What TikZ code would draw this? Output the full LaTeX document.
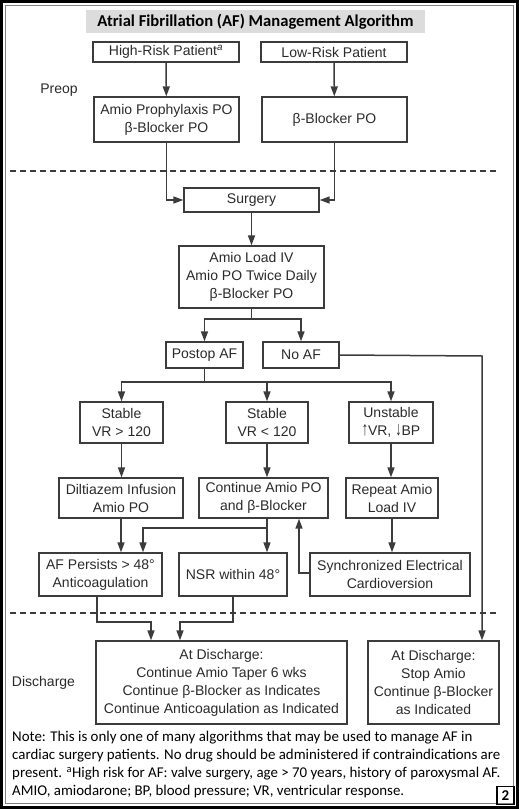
\documentclass[tikz,border=0pt]{standalone}
\usepackage{fontspec}
\setmainfont{Liberation Sans}
\newfontfamily\notefont{Carlito}
\usetikzlibrary{arrows.meta}
\definecolor{ln}{HTML}{3C3C3C}
\definecolor{tx}{HTML}{2A2A2A}
\definecolor{titlebg}{HTML}{DCDCDC}
\newcommand{\tallarrow}[1]{\scalebox{0.9}[1.4]{#1}}
\begin{document}
\begin{tikzpicture}[x=1pt,y=-1pt,
  box/.style={draw=ln,line width=1.3pt,inner sep=0pt,align=center,text=tx,font=\fontsize{14}{18}\selectfont},
  conn/.style={draw=ln,line width=1.5pt},
  arr/.style={conn,-{Triangle[length=10pt,width=7pt]}},
  sepline/.style={draw=ln,line width=2pt,dash pattern=on 6pt off 4pt},
  lbl/.style={inner sep=0pt,text=tx,font=\fontsize{14}{18}\selectfont}]
\useasboundingbox (0,0) rectangle (519,809);
% frame
\draw[black,line width=3pt] (1.5,1.5) rectangle (517.5,807.5);
\draw[gray,line width=1pt] (5.5,5.5) rectangle (513.5,803.5);
% title
\node[fill=titlebg,minimum width=339pt,minimum height=23pt,inner sep=0pt,font=\notefont\bfseries\fontsize{16.6}{18}\selectfont] (title) at (255.5,21.5) {Atrial Fibrillation (AF) Management Algorithm};
% separators
\coordinate (d1l) at (10,171); \coordinate (d1r) at (499,171);
\coordinate (d2l) at (10,613); \coordinate (d2r) at (499,613);
\draw[sepline] (d1l) -- (d1r);
\draw[sepline] (d2l) -- (d2r);
% labels
\node[lbl] (preop) at (59,90) {Preop};
\node[lbl] (disch) at (43.5,683) {Discharge};
% boxes
\node[box,minimum width=146pt,minimum height=20pt] (hr) at (166,52) {High-Risk Patient\textsuperscript{\itshape a}};
\node[box,minimum width=146pt,minimum height=20pt] (lr) at (334,52) {Low-Risk Patient};
\node[box,minimum width=145pt,minimum height=45pt] (amp) at (166.5,119.5) {Amio Prophylaxis PO\\β-Blocker PO};
\node[box,minimum width=145pt,minimum height=45pt] (bb) at (334.5,119.5) {β-Blocker PO};
\node[box,minimum width=135pt,minimum height=24pt] (surg) at (251.5,200) {Surgery};
\node[box,minimum width=145pt,minimum height=62pt] (load) at (251.5,277) {Amio Load IV\\Amio PO Twice Daily\\β-Blocker PO};
\node[box,minimum width=77pt,minimum height=26pt] (postop) at (204.5,355) {Postop AF};
\node[box,minimum width=76pt,minimum height=26pt] (noaf) at (301,355) {No AF};
\node[box,minimum width=83pt,minimum height=41pt] (s1) at (121.5,422.5) {Stable\\VR > 120};
\node[box,minimum width=82pt,minimum height=41pt] (s2) at (267,422.5) {Stable\\VR < 120};
\node[box,minimum width=84pt,minimum height=41pt] (un) at (391,422.5) {Unstable\\\tallarrow{↑}VR, \tallarrow{↓}BP};
\node[box,minimum width=124pt,minimum height=40pt] (dilt) at (121,498) {Diltiazem Infusion\\Amio PO};
\node[box,minimum width=129pt,minimum height=40pt] (cont) at (263.5,498) {Continue Amio PO\\and β-Blocker};
\node[box,minimum width=92pt,minimum height=40pt] (rep) at (392,498) {Repeat Amio\\Load IV};
\node[box,minimum width=123pt,minimum height=43pt] (afp) at (100.5,574.5) {AF Persists > 48°\\Anticoagulation};
\node[box,minimum width=108pt,minimum height=43pt] (nsr) at (233,574.5) {NSR within 48°};
\node[box,minimum width=160pt,minimum height=43pt] (sync) at (390,574.5) {Synchronized Electrical\\Cardioversion};
\node[box,minimum width=251pt,minimum height=83pt] (dc1) at (221.5,682.5) {At Discharge:\\Continue Amio Taper 6 wks\\Continue β-Blocker as Indicates\\Continue Anticoagulation as Indicated};
\node[box,minimum width=131pt,minimum height=83pt] (dc2) at (433.5,682.5) {At Discharge:\\Stop Amio\\Continue β-Blocker\\as Indicated};
% connectors
\draw[arr] (hr) -- (amp);
\draw[arr] (lr) -- (bb);
\draw[arr] (amp.south) |- (surg.west);
\draw[arr] (bb.south) |- (surg.east);
\draw[arr] (surg) -- (load);
\coordinate (b1) at (251.5,319);
\draw[conn] (load.south) -- (b1);
\draw[arr] (b1) -| (postop.north);
\draw[arr] (b1) -| (noaf.north);
\coordinate (c482) at (482,356);
\draw[arr] (noaf.east) -- (c482) -- (c482 |- dc2.north);
\coordinate (b2) at (204.5,382);
\draw[conn] (postop.south) -- (b2);
\draw[arr] (b2) -| (s1.north);
\draw[arr] (b2) -| (s2.north);
\draw[arr] (b2) -| (un.north);
\draw[arr] (s1.south) -- (s1.south |- dilt.north);
\draw[arr] (s2.south) -- (s2.south |- cont.north);
\draw[arr] (un.south) -- (un.south |- rep.north);
\coordinate (b3) at (267,528);
\coordinate (c143) at (143,528);
\draw[conn] (cont.south -| b3) -- (b3);
\draw[arr] (b3) -- (c143) -- (c143 |- afp.north);
\draw[arr] (b3) -- (b3 |- nsr.north);
\draw[arr] (dilt.south) -- (dilt.south |- afp.north);
\draw[arr] (rep.south) -- (rep.south |- sync.north);
\coordinate (c299) at (299,573);
\draw[arr] (sync.west |- c299) -- (c299) -- (c299 |- cont.south);
\coordinate (c97) at (97,622); \coordinate (c151) at (151,622);
\draw[arr] (afp.south -| c97) -- (c97) -- (c151) -- (c151 |- dc1.north);
\coordinate (c233) at (233,622); \coordinate (c180) at (180,622);
\draw[arr] (nsr.south -| c233) -- (c233) -- (c180) -- (c180 |- dc1.north);
% note
\node[anchor=north west,inner sep=0pt,align=left,font=\notefont\fontsize{14.9}{18}\selectfont] (note) at (12,731) {Note: This is only one of many algorithms that may be used to manage AF in\\cardiac surgery patients. No drug should be administered if contraindications are\\present. \textsuperscript{a}High risk for AF: valve surgery, age > 70 years, history of paroxysmal AF.\\AMIO, amiodarone; BP, blood pressure; VR, ventricular response.};
\node[draw=black,line width=1.3pt,minimum width=17pt,minimum height=18pt,inner sep=0pt,font=\notefont\bfseries\fontsize{15}{15}\selectfont] (num) at (505.5,795.5) {2};
\end{tikzpicture}
\end{document}
